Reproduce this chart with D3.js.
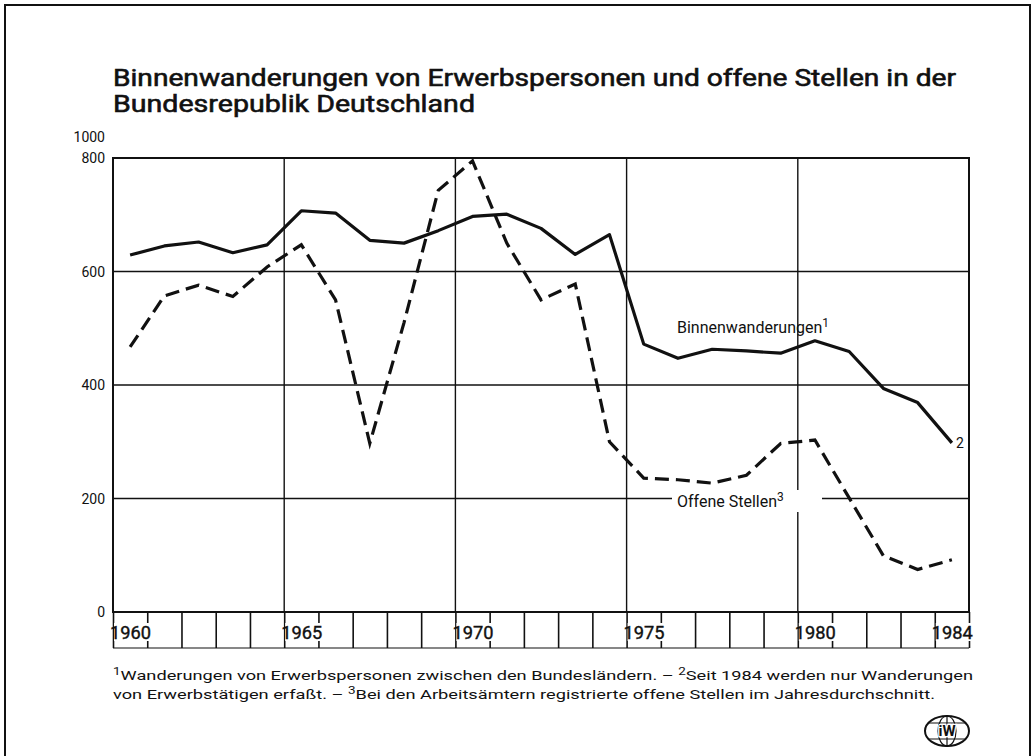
<!DOCTYPE html>
<html>
<head>
<meta charset="utf-8">
<script src="https://cdn.jsdelivr.net/npm/d3@7"></script>
<style>
  body { margin: 0; background: #fff; }
  svg { display: block; }
  text { font-family: Roboto, "Liberation Sans", sans-serif; fill: #111; }
</style>
</head>
<body>
<div id="chart"></div>
<script>
// Werte in Tausend
var years = [1960, 1961, 1962, 1963, 1964, 1965, 1966, 1967, 1968, 1969, 1970, 1971, 1972,
             1973, 1974, 1975, 1976, 1977, 1978, 1979, 1980, 1981, 1982, 1983, 1984];
var binnen = [629, 645, 652, 633, 647, 707, 703, 655, 650, 672, 697, 701, 676,
              630, 665, 472, 447, 463, 460, 456, 478, 459, 394, 369, 298];
var offene = [467, 557, 576, 556, 608, 647, 550, 297, 510, 743, 795, 650, 550,
              578, 300, 236, 233, 227, 241, 297, 303, 201, 99, 75, 92];
var yTicks = [0, 200, 400, 600, 800];
var yGrid = [200, 400, 600];
var xGrid = [1965, 1970, 1975, 1980];
var xLabels = [1960, 1965, 1970, 1975, 1980, 1984];

var titleLines = ["Binnenwanderungen von Erwerbspersonen und offene Stellen in der",
                  "Bundesrepublik Deutschland"];

var width = 1033, height = 756;
var plotLeft = 113, plotRight = 969, plotTop = 158, plotBottom = 612;

var svg = d3.select("#chart").append("svg")
    .attr("width", width)
    .attr("height", height);

// outer frame
svg.append("rect")
    .attr("x", 5).attr("y", 5)
    .attr("width", 1025).attr("height", 780)
    .attr("fill", "none")
    .attr("stroke", "#111")
    .attr("stroke-width", 2);

// title
svg.selectAll("text.title")
    .data(titleLines)
    .enter()
    .append("text")
    .attr("class", "title")
    .attr("x", plotLeft)
    .attr("y", function(d, i) { return 86 + i * 26; })
    .attr("textLength", function(d, i) { return i === 0 ? 843 : 362; })
    .attr("lengthAdjust", "spacingAndGlyphs")
    .style("font-size", "24px")
    .style("stroke", "#111")
    .style("stroke-width", 0.6)
    .text(function(d) { return d; });

var x = d3.scaleLinear().domain([1960, 1985]).range([plotLeft, plotRight]);
var y = d3.scaleLinear().domain([0, 800]).range([plotBottom, plotTop]);

// grid
svg.selectAll("line.hgrid")
    .data(yGrid)
    .enter()
    .append("line")
    .attr("class", "hgrid")
    .attr("x1", plotLeft).attr("x2", plotRight)
    .attr("y1", function(d) { return y(d); })
    .attr("y2", function(d) { return y(d); })
    .attr("stroke", "#111")
    .attr("stroke-width", 1.4);

svg.selectAll("line.vgrid")
    .data(xGrid)
    .enter()
    .append("line")
    .attr("class", "vgrid")
    .attr("x1", function(d) { return x(d); })
    .attr("x2", function(d) { return x(d); })
    .attr("y1", plotTop).attr("y2", plotBottom)
    .attr("stroke", "#111")
    .attr("stroke-width", 1.4);

// plot frame
svg.append("rect")
    .attr("x", plotLeft).attr("y", plotTop)
    .attr("width", plotRight - plotLeft).attr("height", plotBottom - plotTop)
    .attr("fill", "none")
    .attr("stroke", "#111")
    .attr("stroke-width", 2);

// year ticks below the axis
var xAxis = d3.axisBottom(x)
    .tickValues(d3.range(1960, 1986))
    .tickSize(36)
    .tickFormat("");
var xg = svg.append("g")
    .attr("transform", "translate(0," + plotBottom + ")")
    .call(xAxis);
xg.select(".domain").remove();
xg.selectAll(".tick line").attr("stroke", "#111").attr("stroke-width", 1.6);

svg.append("line")
    .attr("x1", plotLeft).attr("x2", plotRight)
    .attr("y1", plotBottom + 36).attr("y2", plotBottom + 36)
    .attr("stroke", "#111")
    .attr("stroke-width", 1.2);

// white box behind the year labels so the ticks stop at the text
svg.selectAll("rect.xlabel-bg")
    .data(xLabels)
    .enter()
    .append("rect")
    .attr("class", "xlabel-bg")
    .attr("x", function(d) { return x(d) + 1; })
    .attr("y", plotBottom + 11)
    .attr("width", 39)
    .attr("height", 18)
    .attr("fill", "#fff");

svg.selectAll("text.xlabel")
    .data(xLabels)
    .enter()
    .append("text")
    .attr("class", "xlabel")
    .attr("x", function(d) { return x(d) - 3; })
    .attr("y", plotBottom + 27)
    .style("font-size", "18px")
    .style("stroke", "#111")
    .style("stroke-width", 0.4)
    .attr("textLength", 41)
    .attr("lengthAdjust", "spacingAndGlyphs")
    .text(function(d) { return d; });

// y labels
svg.selectAll("text.ylabel")
    .data(yTicks)
    .enter()
    .append("text")
    .attr("class", "ylabel")
    .attr("x", 105)
    .attr("y", function(d) { return y(d); })
    .attr("dy", "0.36em")
    .attr("text-anchor", "end")
    .style("font-size", "14px")
    .text(function(d) { return d; });

svg.append("text")
    .attr("x", 105)
    .attr("y", y(800) - 21)
    .attr("dy", "0.36em")
    .attr("text-anchor", "end")
    .style("font-size", "14px")
    .text("1000");

// lines, points at mid-year
var line = d3.line()
    .x(function(d) { return x(d[0] + 0.5); })
    .y(function(d) { return y(d[1]); });

svg.append("path")
    .datum(d3.zip(years, binnen))
    .attr("d", line)
    .attr("fill", "none")
    .attr("stroke", "#111")
    .attr("stroke-width", 3.2)
    .attr("stroke-linejoin", "round");

// label background for Offene Stellen (breaks the grid line)
svg.append("rect")
    .attr("x", 672).attr("y", 490)
    .attr("width", 150).attr("height", 22)
    .attr("fill", "#fff");

svg.append("path")
    .datum(d3.zip(years, offene))
    .attr("d", line)
    .attr("fill", "none")
    .attr("stroke", "#111")
    .attr("stroke-width", 3.2)
    .attr("stroke-dasharray", "14,7");

// series labels
var lab1 = svg.append("text")
    .attr("x", 677).attr("y", 333)
    .style("font-size", "16px");
lab1.append("tspan").text("Binnenwanderungen");
lab1.append("tspan").attr("dy", -6).style("font-size", "12px").text("1");

var lab2 = svg.append("text")
    .attr("x", 677).attr("y", 507)
    .style("font-size", "16px");
lab2.append("tspan").text("Offene Stellen");
lab2.append("tspan").attr("dy", -6).style("font-size", "12px").text("3");

svg.append("text")
    .attr("x", x(1984.5) + 4)
    .attr("y", y(binnen[binnen.length - 1]) + 5)
    .style("font-size", "14px")
    .text("2");

// footnotes
var fn1 = svg.append("text")
    .attr("x", plotLeft).attr("y", 680)
    .attr("textLength", 860)
    .attr("lengthAdjust", "spacingAndGlyphs")
    .style("font-size", "13.5px");
fn1.append("tspan").attr("dy", -5).style("font-size", "10px").text("1");
fn1.append("tspan").attr("dy", 5).text("Wanderungen von Erwerbspersonen zwischen den Bundesländern. – ");
fn1.append("tspan").attr("dy", -5).style("font-size", "10px").text("2");
fn1.append("tspan").attr("dy", 5).text("Seit 1984 werden nur Wanderungen");

var fn2 = svg.append("text")
    .attr("x", plotLeft).attr("y", 699)
    .attr("textLength", 822)
    .attr("lengthAdjust", "spacingAndGlyphs")
    .style("font-size", "13.5px");
fn2.append("tspan").text("von Erwerbstätigen erfaßt. – ");
fn2.append("tspan").attr("dy", -5).style("font-size", "10px").text("3");
fn2.append("tspan").attr("dy", 5).text("Bei den Arbeitsämtern registrierte offene Stellen im Jahresdurchschnitt.");

// logo (globe)
var logo = svg.append("g").attr("transform", "translate(947,731)");
logo.append("ellipse").attr("rx", 22).attr("ry", 15)
    .attr("fill", "#fff").attr("stroke", "#111").attr("stroke-width", 2);
logo.append("ellipse").attr("rx", 9).attr("ry", 15)
    .attr("fill", "none").attr("stroke", "#111").attr("stroke-width", 1.2);
logo.append("line").attr("x1", 0).attr("x2", 0).attr("y1", -15).attr("y2", 15)
    .attr("stroke", "#111").attr("stroke-width", 1.2);
[-8, 8].forEach(function(v) {
    logo.append("line").attr("x1", -19).attr("x2", 19).attr("y1", v).attr("y2", v)
        .attr("stroke", "#111").attr("stroke-width", 1.2);
});
logo.append("text")
    .attr("text-anchor", "middle")
    .attr("y", 5)
    .style("font-size", "15px")
    .style("font-weight", "bold")
    .style("stroke", "#fff")
    .style("stroke-width", 2.5)
    .style("paint-order", "stroke")
    .text("iW");
</script>
</body>
</html>
